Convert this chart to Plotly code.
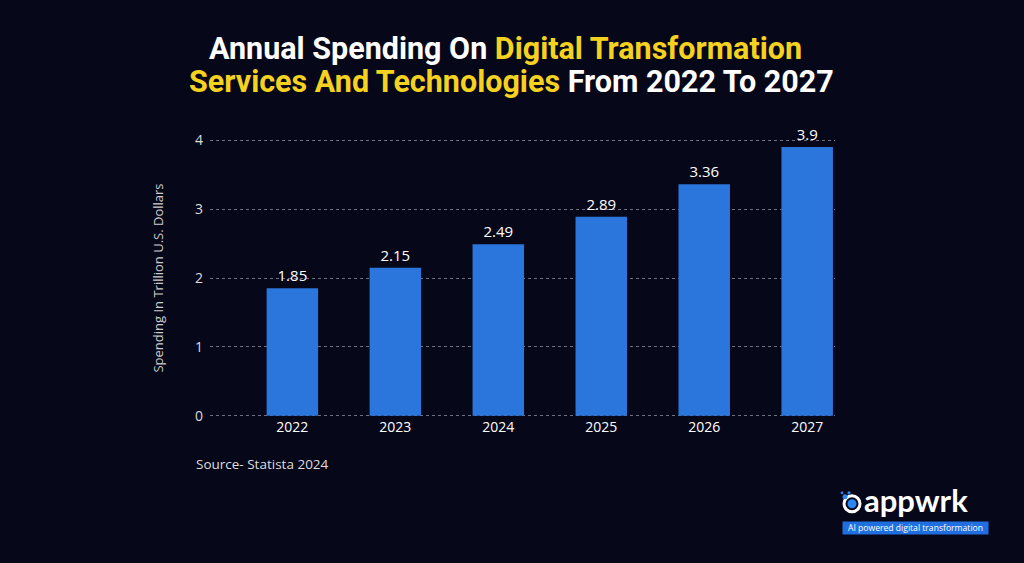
import plotly.graph_objects as go

years = ["2022", "2023", "2024", "2025", "2026", "2027"]
spending = [1.85, 2.15, 2.49, 2.89, 3.36, 3.9]
labels = ["1.85", "2.15", "2.49", "2.89", "3.36", "3.9"]
y_ticks = [0, 1, 2, 3, 4]

BG = "#07071a"
BAR = "#2a76dc"
FONT = "Open Sans"

# plot area in page pixels: x 210..835, y 140..416 (value 4 .. value 0)
L, R, T, B = 210, 835, 140, 416
PAD = 0.06  # y-range padding (in data units) so the 0 and 4 gridlines show
UNIT = (B - T) / 4.0


def px(X):
    return (X - L) / (R - L)


def py(Y):
    top = T - PAD * UNIT
    bot = B + PAD * UNIT
    return (bot - Y) / (bot - top)


fig = go.Figure()
fig.add_trace(go.Bar(
    x=years, y=spending, text=labels, textposition="outside",
    textfont=dict(color="white", size=15, family=FONT),
    marker=dict(color=BAR, line=dict(width=0)), width=0.5,
    cliponaxis=False,
))

fig.update_layout(
    width=1024, height=563,
    paper_bgcolor=BG, plot_bgcolor=BG,
    margin=dict(l=L, r=1024 - R, t=T - PAD * UNIT, b=563 - B - PAD * UNIT),
    showlegend=False,
    font=dict(family=FONT, color="white"),
    xaxis=dict(
        type="category", range=[-0.8, 5.27], showgrid=False, zeroline=False,
        showline=False, ticks="", tickfont=dict(size=14, color="white", family=FONT),
        ticklabelstandoff=-3,
    ),
    yaxis=dict(
        range=[-PAD, 4 + PAD], tickvals=y_ticks, showgrid=True, gridcolor="#707080",
        griddash="dot", gridwidth=1, zeroline=False, showline=False,
        tickfont=dict(size=14, color="#dddddd", family=FONT), ticklabelstandoff=6,
        title=dict(text="Spending In Trillion U.S. Dollars",
                   font=dict(size=13, color="#cccccc", family=FONT), standoff=28),
    ),
)

# Title (two lines)
fig.add_annotation(
    xref="paper", yref="paper", x=px(505), y=py(48),
    text="Annual Spending On <span style='color:#f4d21f'>Digital Transformation</span>",
    showarrow=False, xanchor="center", yanchor="middle",
    font=dict(family="Roboto", size=30.5, color="white", weight="bold"),
)
fig.add_annotation(
    xref="paper", yref="paper", x=px(511), y=py(81),
    text="<span style='color:#f4d21f'>Services And Technologies</span> From 2022 To 2027",
    showarrow=False, xanchor="center", yanchor="middle",
    font=dict(family="Roboto", size=30.5, color="white", weight="bold"),
)

# Source
fig.add_annotation(
    xref="paper", yref="paper", x=px(194), y=py(464),
    xanchor="left", yanchor="middle", showarrow=False,
    text="Source- Statista 2024",
    font=dict(family=FONT, size=13.5, color="#dddddd"),
)

# Logo: icon
cx, cy = px(852), py(504)
fig.add_shape(type="circle", xref="paper", yref="paper", xsizemode="pixel", ysizemode="pixel",
              xanchor=cx, yanchor=cy, x0=-8, x1=8, y0=-8, y1=8,
              line=dict(color="white", width=3), fillcolor=BG)
fig.add_shape(type="circle", xref="paper", yref="paper", xsizemode="pixel", ysizemode="pixel",
              xanchor=cx, yanchor=cy, x0=-4.5, x1=4.5, y0=-4.5, y1=4.5,
              line=dict(width=0), fillcolor="#2a86f0")
for dx, dy, r in [(-7, 7, 2.5), (-3, 11, 1.6), (-10, 11, 1.4)]:
    fig.add_shape(type="circle", xref="paper", yref="paper", xsizemode="pixel", ysizemode="pixel",
                  xanchor=cx, yanchor=cy, x0=dx - r, x1=dx + r, y0=dy - r, y1=dy + r,
                  line=dict(width=0), fillcolor="#2a86f0")
fig.add_annotation(
    xref="paper", yref="paper", x=px(862), y=py(500),
    xanchor="left", yanchor="middle", showarrow=False,
    text="appwrk",
    font=dict(family="Lato", size=31, color="white", weight="bold"),
)
fig.add_annotation(
    xref="paper", yref="paper", x=px(915.5), y=py(528),
    xanchor="center", yanchor="middle", showarrow=False,
    text="AI powered digital transformation", width=145, height=12,
    bgcolor="#1f6fe0", borderpad=0,
    font=dict(family=FONT, size=8.6, color="white"),
)

fig.write_html(
    "out.html",
    config={"displayModeBar": False},
    post_script="document.body.style.margin='0';document.body.style.background='#07071a';"
)
